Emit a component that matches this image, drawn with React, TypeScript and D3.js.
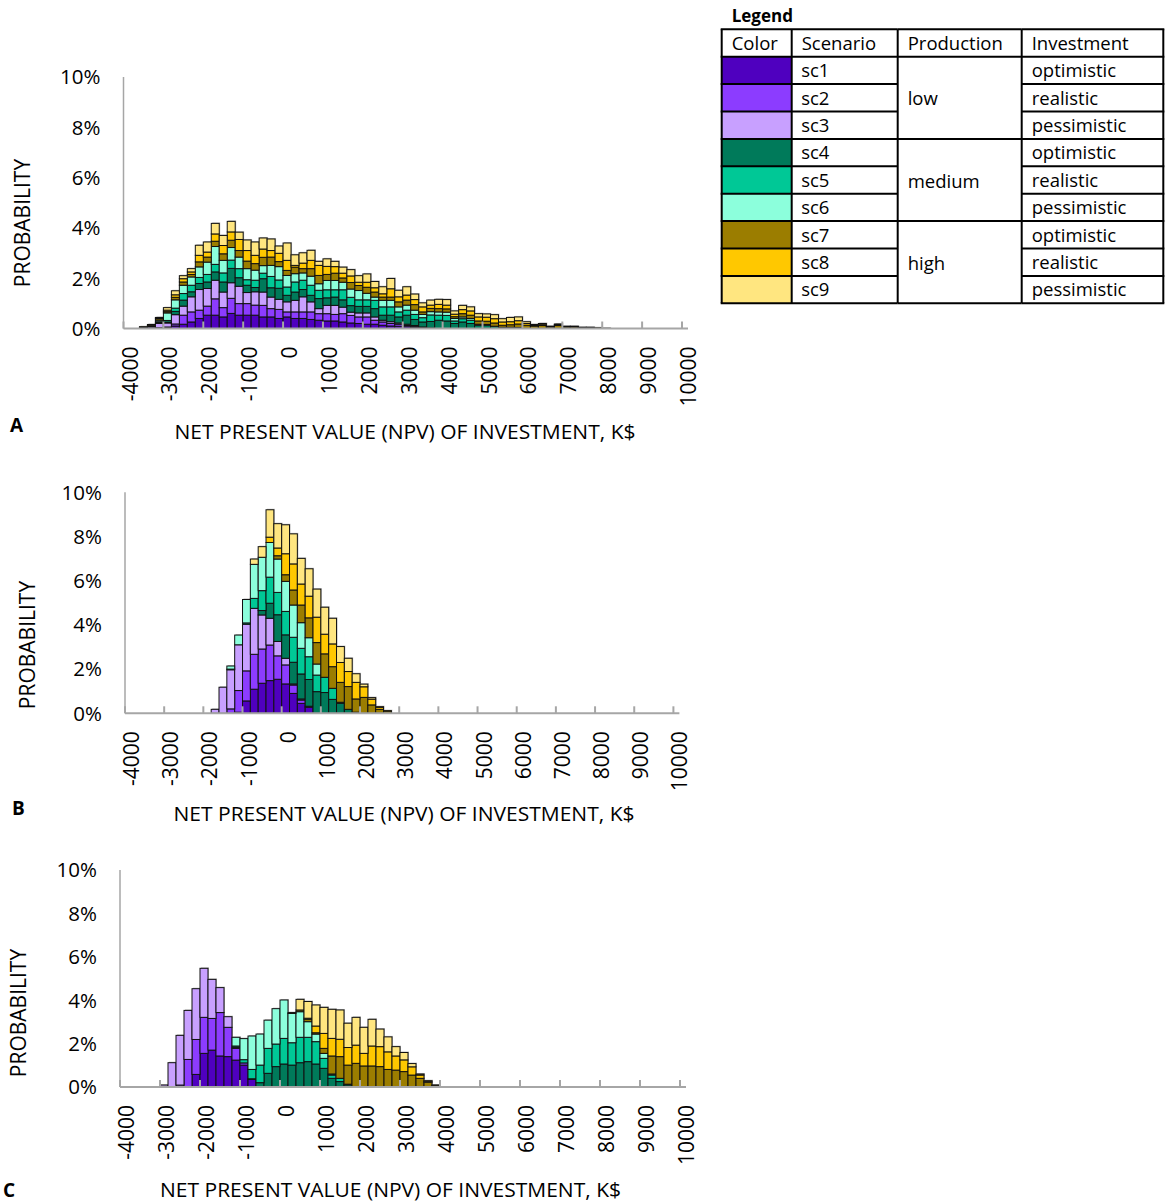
import React from "react";
import * as d3 from "d3";

const scenarios = ["sc1", "sc2", "sc3", "sc4", "sc5", "sc6", "sc7", "sc8", "sc9"];
const colors = ["#4f00bf", "#8c3cff", "#c8a0ff", "#007a5a", "#00c896", "#8cffdc", "#9b7d00", "#ffc800", "#ffe680"];
const production = ["low", "medium", "high"];
const investment = ["optimistic", "realistic", "pessimistic", "optimistic", "realistic", "pessimistic", "optimistic", "realistic", "pessimistic"];

const binWidth = 200;
const xTicks = d3.range(-4000, 10001, 1000);
const yTicks = [0, 2, 4, 6, 8, 10];

// panel A: bins from -3600 to 8000
const binsA = d3.range(-3600, 8001, binWidth);
const a1 = [0, 0, 0, 0.02, 0.1, 0.17, 0.26, 0.4, 0.53, 0.53, 0.46, 0.6, 0.53, 0.53, 0.53, 0.46, 0.46, 0.4, 0.46, 0.4, 0.4, 0.36, 0.33, 0.3, 0.3, 0.26, 0.22, 0.2, 0.17, 0.17, 0.13, 0.1, 0.09, 0.07, 0.05, 0.03, 0.02, 0, 0, 0, 0, 0, 0, 0, 0, 0, 0, 0, 0, 0, 0, 0, 0, 0, 0, 0, 0, 0, 0];
const a2 = [0, 0, 0.03, 0.04, 0.08, 0.36, 0.4, 0.33, 0.36, 0.65, 0.37, 0.6, 0.46, 0.46, 0.4, 0.46, 0.33, 0.36, 0.2, 0.26, 0.26, 0.3, 0.26, 0.29, 0.26, 0.33, 0.3, 0.26, 0.29, 0.16, 0.13, 0.1, 0.08, 0.05, 0.04, 0.02, 0, 0, 0, 0, 0, 0, 0, 0, 0, 0, 0, 0, 0, 0, 0, 0, 0, 0, 0, 0, 0, 0, 0];
const a3 = [0.04, 0.06, 0.17, 0.16, 0.37, 0.36, 0.6, 0.82, 0.7, 0.74, 0.62, 0.62, 0.69, 0.44, 0.53, 0.53, 0.46, 0.4, 0.4, 0.46, 0.6, 0.4, 0.2, 0.33, 0.36, 0.26, 0.13, 0.16, 0.16, 0.13, 0.07, 0.07, 0.05, 0.05, 0.03, 0.01, 0, 0, 0, 0, 0, 0, 0, 0, 0, 0, 0, 0, 0, 0, 0, 0, 0, 0, 0, 0, 0, 0, 0];
const a4 = [0, 0, 0.04, 0.04, 0.13, 0.24, 0.2, 0.24, 0.26, 0.33, 0.4, 0.57, 0.34, 0.29, 0.17, 0.53, 0.37, 0.44, 0.26, 0.33, 0.29, 0.26, 0.4, 0.3, 0.33, 0.29, 0.26, 0.26, 0.26, 0.33, 0.2, 0.26, 0.24, 0.36, 0.24, 0.2, 0.26, 0.33, 0.3, 0.2, 0.26, 0.2, 0.13, 0.13, 0.09, 0.05, 0.05, 0.04, 0, 0, 0, 0, 0, 0, 0, 0, 0, 0, 0];
const a5 = [0, 0, 0.03, 0.06, 0.13, 0.26, 0.26, 0.24, 0.3, 0.3, 0.36, 0.33, 0.36, 0.22, 0.29, 0.22, 0.45, 0.33, 0.33, 0.4, 0.37, 0.4, 0.33, 0.32, 0.29, 0.4, 0.33, 0.26, 0.26, 0.33, 0.33, 0.33, 0.2, 0.2, 0.2, 0.17, 0.26, 0.2, 0.22, 0.1, 0.13, 0.13, 0.04, 0.03, 0, 0, 0, 0, 0, 0, 0, 0, 0, 0, 0, 0, 0, 0, 0];
const a6 = [0.02, 0.04, 0.06, 0.3, 0.33, 0.33, 0.33, 0.42, 0.49, 0.71, 0.5, 0.5, 0.46, 0.44, 0.4, 0.3, 0.44, 0.53, 0.46, 0.33, 0.29, 0.36, 0.26, 0.37, 0.37, 0.3, 0.33, 0.37, 0.26, 0.13, 0.26, 0.26, 0.2, 0.2, 0.17, 0.13, 0.13, 0.13, 0.13, 0.1, 0.07, 0.07, 0, 0, 0, 0, 0, 0, 0, 0, 0, 0, 0, 0, 0, 0, 0, 0, 0];
const a7 = [0, 0.03, 0.06, 0.05, 0.1, 0.13, 0.1, 0.2, 0.2, 0.21, 0.26, 0.29, 0.26, 0.3, 0.26, 0.33, 0.33, 0.2, 0.2, 0.26, 0.17, 0.3, 0.33, 0.24, 0.29, 0.17, 0.26, 0.2, 0.24, 0.2, 0.13, 0.13, 0.2, 0.2, 0.22, 0.1, 0.13, 0.13, 0.13, 0.07, 0.13, 0.13, 0.13, 0.13, 0.13, 0.08, 0.1, 0.14, 0.13, 0.1, 0.12, 0.06, 0.12, 0.06, 0.06, 0.04, 0.04, 0.03, 0.01];
const a8 = [0, 0, 0.03, 0.06, 0.1, 0.13, 0.1, 0.26, 0.2, 0.29, 0.33, 0.33, 0.44, 0.42, 0.33, 0.33, 0.26, 0.33, 0.4, 0.07, 0.22, 0.33, 0.4, 0.32, 0.26, 0.19, 0.26, 0.13, 0.2, 0.17, 0.13, 0.33, 0.2, 0.2, 0.2, 0.2, 0.13, 0.17, 0.15, 0.1, 0.16, 0.17, 0.16, 0.16, 0.17, 0.13, 0.12, 0.13, 0.07, 0.04, 0.05, 0.02, 0.04, 0.02, 0.02, 0.01, 0.01, 0, 0];
const a9 = [0.01, 0.03, 0.02, 0.1, 0.16, 0.12, 0.13, 0.4, 0.4, 0.42, 0.4, 0.42, 0.29, 0.42, 0.53, 0.44, 0.46, 0.29, 0.69, 0.42, 0.41, 0.4, 0.16, 0.3, 0.21, 0.24, 0.25, 0.26, 0.33, 0.25, 0.28, 0.41, 0.26, 0.33, 0.22, 0.16, 0.2, 0.2, 0.22, 0.13, 0.17, 0.16, 0.13, 0.13, 0.16, 0.13, 0.17, 0.15, 0.07, 0.02, 0.03, 0.01, 0.02, 0.01, 0.01, 0, 0, 0, 0];

// panel B: bins from -1800 to 2600
const binsB = d3.range(-1800, 2601, binWidth);
const b1 = [0, 0, 0, 0.05, 0.56, 1.09, 1.36, 1.48, 1.54, 1.33, 0.9, 0.45, 0.27, 0, 0, 0, 0, 0, 0, 0, 0, 0, 0];
const b2 = [0, 0, 0.2, 0.98, 1.36, 1.58, 1.55, 1.61, 1.06, 0.86, 0.38, 0.15, 0.05, 0, 0, 0, 0, 0, 0, 0, 0, 0, 0];
const b3 = [0.18, 1.18, 1.77, 2.07, 2.11, 2.08, 1.54, 1.21, 0.65, 0.3, 0.05, 0.05, 0, 0, 0, 0, 0, 0, 0, 0, 0, 0, 0];
const b4 = [0, 0, 0, 0, 0, 0, 0.2, 0.68, 1.21, 1.06, 0.98, 1.13, 1.21, 0.98, 0.94, 0.63, 0.45, 0.18, 0.05, 0, 0, 0, 0];
const b5 = [0, 0, 0.03, 0, 0.06, 0.45, 0.9, 1.18, 1.01, 1.06, 1.13, 1.16, 1.03, 0.75, 0.69, 0.5, 0.05, 0, 0, 0, 0, 0, 0];
const b6 = [0, 0, 0.14, 0.44, 1.06, 1.54, 1.51, 1.57, 1.51, 1.36, 1.46, 1.16, 0.86, 0.5, 0, 0, 0, 0, 0, 0, 0, 0, 0];
const b7 = [0, 0, 0, 0, 0, 0, 0, 0, 0.15, 0.3, 0.68, 0.8, 0.9, 0.97, 1.06, 0.98, 0.9, 1.03, 0.6, 0.72, 0.38, 0.18, 0.1];
const b8 = [0, 0, 0, 0, 0, 0, 0, 0.24, 0.35, 0.95, 1.18, 0.95, 0.98, 1.15, 0.89, 1.03, 0.9, 0.68, 0.75, 0.48, 0.26, 0.09, 0.02];
const b9 = [0, 0, 0, 0, 0, 0.24, 0.48, 1.24, 1.1, 1.31, 1.36, 1.16, 1.24, 1.27, 1.22, 1.16, 0.72, 0.6, 0.39, 0.12, 0.07, 0.03, 0];

// panel C: bins from -3000 to 3800
const binsC = d3.range(-3000, 3801, binWidth);
const c1 = [0, 0, 0, 0, 0.58, 1.55, 1.7, 1.43, 1.4, 1.24, 1.01, 0.35, 0, 0, 0, 0, 0, 0, 0, 0, 0, 0, 0, 0, 0, 0, 0, 0, 0, 0, 0, 0, 0, 0, 0];
const c2 = [0, 0, 0.09, 1.27, 1.61, 1.66, 1.46, 2.0, 1.35, 0.54, 0.1, 0, 0, 0, 0, 0, 0, 0, 0, 0, 0, 0, 0, 0, 0, 0, 0, 0, 0, 0, 0, 0, 0, 0, 0];
const c3 = [0.09, 1.12, 2.29, 2.26, 2.34, 2.26, 1.8, 1.15, 0.49, 0.05, 0, 0, 0, 0, 0, 0, 0, 0, 0, 0, 0, 0, 0, 0, 0, 0, 0, 0, 0, 0, 0, 0, 0, 0, 0];
const c4 = [0, 0, 0, 0, 0, 0, 0, 0, 0, 0, 0, 0.03, 0.2, 0.63, 0.94, 1.06, 1.01, 1.12, 1.17, 1.06, 0.86, 0.4, 0.25, 0.1, 0, 0, 0, 0, 0, 0, 0, 0, 0, 0, 0];
const c5 = [0, 0, 0, 0, 0, 0, 0, 0, 0, 0.06, 0.15, 0.43, 0.81, 1.15, 1.04, 1.18, 1.03, 1.17, 1.12, 1.03, 0.46, 0.15, 0.15, 0.03, 0, 0, 0, 0, 0, 0, 0, 0, 0, 0, 0];
const c6 = [0, 0, 0, 0, 0, 0, 0, 0, 0, 0.4, 0.97, 1.54, 1.43, 1.3, 1.63, 1.77, 1.35, 1.18, 0.72, 0.35, 0.23, 0.05, 0, 0, 0, 0, 0, 0, 0, 0, 0, 0, 0, 0, 0];
const c7 = [0, 0, 0, 0, 0, 0, 0, 0, 0, 0, 0, 0, 0, 0, 0, 0, 0.04, 0.08, 0.11, 0.06, 0.23, 0.83, 1.0, 0.88, 1.09, 0.97, 0.97, 0.94, 0.81, 0.78, 0.71, 0.55, 0.4, 0.22, 0.08];
const c8 = [0, 0, 0, 0, 0, 0, 0, 0, 0, 0, 0, 0, 0, 0, 0, 0, 0, 0, 0.05, 0.31, 0.69, 0.81, 0.8, 0.81, 0.84, 0.58, 0.92, 0.92, 0.81, 0.65, 0.54, 0.38, 0.15, 0.05, 0];
const c9 = [0, 0, 0, 0, 0, 0, 0, 0, 0, 0, 0, 0, 0, 0, 0, 0, 0, 0.49, 0.77, 0.97, 1.2, 1.34, 1.35, 1.12, 1.28, 1.2, 1.23, 0.81, 0.69, 0.43, 0.34, 0.15, 0.05, 0.02, 0.01];

const FONT = "'Open Sans', 'Liberation Sans', sans-serif";

const panels = [
  { label: "A", bins: binsA, series: [a1, a2, a3, a4, a5, a6, a7, a8, a9], left: 123.5, right: 682, top: 77, bottom: 328.5, probY: 223, probX: 29.5, titleX: 405, titleY: 439, letterX: 10, letterY: 432 },
  { label: "B", bins: binsB, series: [b1, b2, b3, b4, b5, b6, b7, b8, b9], left: 125, right: 673.4, top: 492.3, bottom: 713.3, probY: 645, probX: 34.5, titleX: 404, titleY: 820.5, letterX: 12, letterY: 815 },
  { label: "C", bins: binsC, series: [c1, c2, c3, c4, c5, c6, c7, c8, c9], left: 120, right: 680, top: 870, bottom: 1087, probY: 1013, probX: 25.5, titleX: 390.5, titleY: 1197, letterX: 3, letterY: 1197 },
];

function Panel({ p }: { p: (typeof panels)[number] }) {
  const x = d3.scaleLinear().domain([-4000, 10000]).range([p.left, p.right]);
  const y = d3.scaleLinear().domain([0, 10]).range([p.bottom, p.top]);
  const rows = p.bins.map((b, i) => {
    const r: any = { bin: b };
    scenarios.forEach((s, k) => (r[s] = p.series[k][i]));
    return r;
  });
  const stacked = d3.stack().keys(scenarios)(rows);
  const totals = rows.map((r) => d3.sum(scenarios, (s) => r[s]));
  const axisColor = "#a6a6a6";

  return (
    <g>
      {/* soft shadow behind each bar */}
      {p.bins.map((b, i) =>
        totals[i] > 0 ? (
          <rect key={"sh" + b} x={x(b) + 1} y={y(totals[i]) - 1} width={x(b + binWidth) - x(b)} height={p.bottom - y(totals[i]) + 1} fill="#000" opacity={0.25} />
        ) : null
      )}
      {stacked.map((layer, k) => (
        <g key={scenarios[k]}>
          {layer.map((d, i) => {
            const h = y(d[0]) - y(d[1]);
            if (h <= 0) return null;
            const b = p.bins[i];
            return (
              <rect key={b} x={x(b)} y={y(d[1])} width={x(b + binWidth) - x(b)} height={h} fill={colors[k]} stroke="#111" strokeWidth={1} />
            );
          })}
        </g>
      ))}
      {/* axes */}
      <line x1={p.left} x2={p.left} y1={p.top} y2={p.bottom} stroke={axisColor} strokeWidth={1.5} />
      <line x1={p.left} x2={p.right + 6} y1={p.bottom} y2={p.bottom} stroke={axisColor} strokeWidth={2} />
      {xTicks.map((t) => (
        <g key={t}>
          <line x1={x(t)} x2={x(t)} y1={p.bottom} y2={p.bottom - 7} stroke={axisColor} strokeWidth={2} />
          <text transform={`translate(${x(t) + 14},${p.bottom + 18}) rotate(-90)`} textAnchor="end" fontSize={21} fontFamily={FONT} fill="#000">
            {t}
          </text>
        </g>
      ))}
      {yTicks.map((t) => (
        <text key={t} x={p.left - 23} y={y(t)} dy="0.36em" textAnchor="end" fontSize={20.5} fontFamily={FONT} fill="#000">
          {t + "%"}
        </text>
      ))}
      <text transform={`translate(${p.probX},${p.probY}) rotate(-90)`} textAnchor="middle" fontSize={21} fontFamily={FONT} fill="#000">
        PROBABILITY
      </text>
      <text x={p.titleX} y={p.titleY} textAnchor="middle" fontSize={19.5} fontFamily={FONT} fill="#000" textLength={461} lengthAdjust="spacingAndGlyphs">
        NET PRESENT VALUE (NPV) OF INVESTMENT, K$
      </text>
      <text x={p.letterX} y={p.letterY} fontSize={19} fontWeight="bold" fontFamily={FONT} fill="#000">
        {p.label}
      </text>
    </g>
  );
}

function Legend() {
  const cols = [721.7, 791.7, 897.7, 1021.7, 1163.3];
  const top = 29.3;
  const rowH = 27.4;
  const rowTop = (i: number) => top + rowH * i;
  const headers = ["Color", "Scenario", "Production", "Investment"];
  const fs = 18.5;
  return (
    <g fontFamily={FONT} fill="#000">
      <text x={731.7} y={21.7} fontSize={17} fontWeight="bold">
        Legend
      </text>
      {scenarios.map((s, i) => (
        <rect key={s} x={cols[0]} y={rowTop(i + 1)} width={cols[1] - cols[0]} height={rowH} fill={colors[i]} />
      ))}
      {headers.map((h, j) => (
        <text key={h} x={cols[j] + 10} y={rowTop(0) + 20.5} fontSize={fs}>
          {h}
        </text>
      ))}
      {scenarios.map((s, i) => (
        <g key={"t" + s}>
          <text x={cols[1] + 9.5} y={rowTop(i + 1) + 20.5} fontSize={fs}>
            {s}
          </text>
          <text x={cols[3] + 10} y={rowTop(i + 1) + 20.5} fontSize={fs}>
            {investment[i]}
          </text>
        </g>
      ))}
      {production.map((pr, g) => (
        <text key={pr} x={cols[2] + 10} y={(rowTop(1 + g * 3) + rowTop(4 + g * 3)) / 2 + 7.5} fontSize={fs}>
          {pr}
        </text>
      ))}
      {/* grid lines */}
      {cols.map((cx, j) => (
        <line key={"v" + j} x1={cx} x2={cx} y1={rowTop(0)} y2={rowTop(10)} stroke="#000" strokeWidth={2} />
      ))}
      {d3.range(0, 11).map((i) => {
        const full = i % 3 === 1 || i === 0 || i === 10;
        return (
          <g key={"h" + i}>
            <line x1={cols[0] - 1} x2={cols[2]} y1={rowTop(i)} y2={rowTop(i)} stroke="#000" strokeWidth={2} />
            <line x1={cols[3]} x2={cols[4] + 1} y1={rowTop(i)} y2={rowTop(i)} stroke="#000" strokeWidth={2} />
            {full ? <line x1={cols[2]} x2={cols[3]} y1={rowTop(i)} y2={rowTop(i)} stroke="#000" strokeWidth={2} /> : null}
          </g>
        );
      })}
    </g>
  );
}

export default function App() {
  return (
    <svg width={1165} height={1202} style={{ position: "absolute", left: 0, top: 0, background: "#fff" }}>
      <rect width={1165} height={1202} fill="#fff" />
      {panels.map((p) => (
        <Panel key={p.label} p={p} />
      ))}
      <Legend />
    </svg>
  );
}
